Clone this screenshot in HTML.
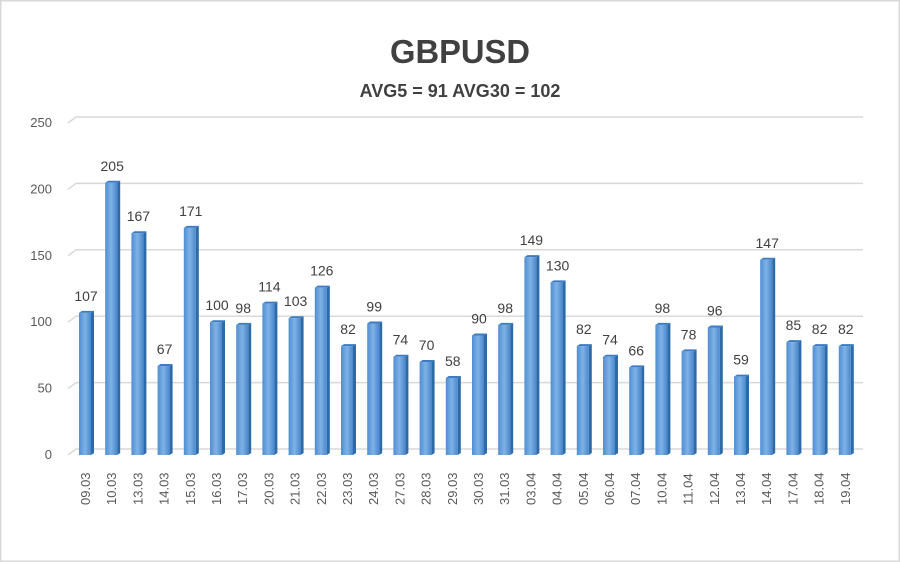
<!DOCTYPE html>
<html><head><meta charset="utf-8"><style>
body{margin:0;background:#fff}
svg{display:block;font-family:"Liberation Sans",Arial,sans-serif}
</style></head><body>
<svg width="900" height="562" viewBox="0 0 900 562">
<defs>
<linearGradient id="g" x1="0" x2="1" y1="0" y2="0">
<stop offset="0" stop-color="#4f8ed3"/><stop offset="0.5" stop-color="#7fb2e6"/><stop offset="1" stop-color="#4a87cb"/>
</linearGradient>
</defs>
<rect x="0.5" y="0.5" width="899" height="561" fill="#fff" stroke="#d9d9d9" stroke-width="2"/>
<text x="460" y="63" text-anchor="middle" font-size="33" font-weight="bold" fill="#404040" textLength="140" lengthAdjust="spacingAndGlyphs">GBPUSD</text>
<text x="460" y="97" text-anchor="middle" font-size="18" font-weight="bold" fill="#404040">AVG5 = 91 AVG30 = 102</text>
<g id="grid" stroke="#d9d9d9" stroke-width="1.5" fill="none"></g>
<g id="ylab" font-size="13" fill="#595959" text-anchor="end"></g>
<g id="bars"></g>
<g id="vals" font-size="14" fill="#404040" text-anchor="middle"></g>
<g id="xlab" font-size="13" fill="#595959"></g>
</svg>
<script>
var ns="http://www.w3.org/2000/svg";
function el(p,t,a,txt){var e=document.createElementNS(ns,t);for(var k in a)e.setAttribute(k,a[k]);if(txt!=null)e.textContent=txt;document.getElementById(p).appendChild(e);}
for(var i=0;i<=5;i++){var v=i*50,y=449-v*1.328;
el("grid","path",{d:"M68 "+(y+6)+" L76 "+y+" L863 "+y});
el("ylab","text",{x:52,y:y+10},v);}
var d=[["09.03",107],["10.03",205],["13.03",167],["14.03",67],["15.03",171],["16.03",100],["17.03",98],["20.03",114],["21.03",103],["22.03",126],["23.03",82],["24.03",99],["27.03",74],["28.03",70],["29.03",58],["30.03",90],["31.03",98],["03.04",149],["04.04",130],["05.04",82],["06.04",74],["07.04",66],["10.04",98],["11.04",78],["12.04",96],["13.04",59],["14.04",147],["17.04",85],["18.04",82],["19.04",82]];
d.forEach(function(r,i){var x=79+i*26.2,h=r[1]*1.328,top=455-h;
el("bars","path",{d:"M"+(x+12)+" "+top+" l3 -2 l0 "+h+" l-3 2z",fill:"#2d6aa8"});
el("bars","path",{d:"M"+x+" "+top+" l3 -2 l12 0 l-3 2z",fill:"#3d7cc0"});
el("bars","rect",{x:x,y:top,width:12,height:h,fill:"url(#g)"});
el("vals","text",{x:x+7,y:top-12},r[1]);
el("xlab","text",{x:0,y:0,transform:"translate("+(x+11)+",505) rotate(-90)"},r[0]);
});
</script>
</body></html>
